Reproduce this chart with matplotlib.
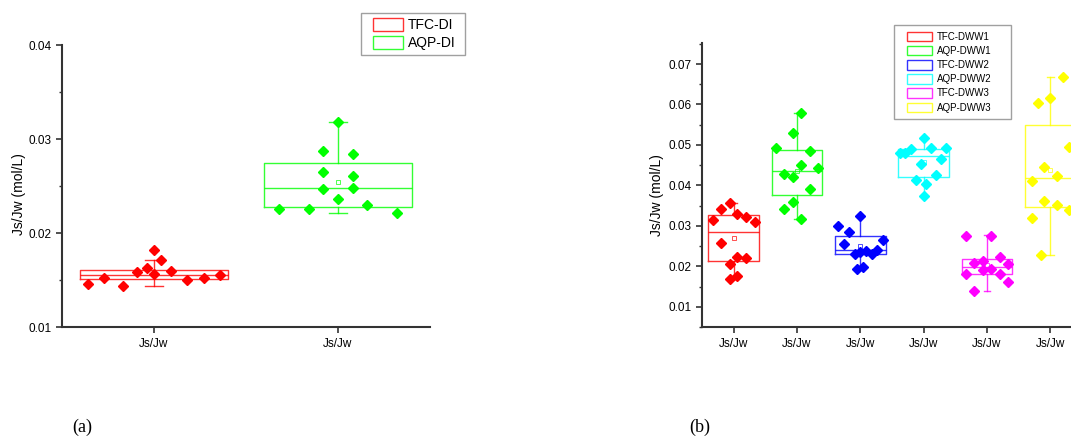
import numpy as np
import matplotlib.pyplot as plt
from matplotlib.patches import Patch, Rectangle
from matplotlib.legend_handler import HandlerPatch
from matplotlib.ticker import MultipleLocator, FormatStrFormatter

plt.rcParams['font.family'] = ['Liberation Sans', 'DejaVu Sans']

# ---- panel (a) data ----
names_a = ['TFC-DI', 'AQP-DI']
colors_a = ['#ff0000', '#00ff00']
tfc_di = [0.01454, 0.01521, 0.01436, 0.01582, 0.01628, 0.01819,
          0.01560, 0.01713, 0.01596, 0.01500, 0.01518, 0.01553]
aqp_di = [0.02255, 0.02252, 0.02872, 0.02649, 0.02471, 0.03184,
          0.02358, 0.02844, 0.02610, 0.02482, 0.02294, 0.02216]
q1_a = [0.01507, 0.02277]
med_a = [0.01556, 0.02476]
q3_a = [0.01610, 0.02745]
lo_a = [0.01436, 0.02216]
hi_a = [0.01713, 0.03184]

# ---- panel (b) data ----
names_b = ['TFC-DWW1', 'AQP-DWW1', 'TFC-DWW2', 'AQP-DWW2', 'TFC-DWW3', 'AQP-DWW3']
colors_b = ['#ff0000', '#00ff00', '#0000ff', '#00ffff', '#ff00ff', '#ffff00']
tfc_dww1 = [0.03156, 0.03412, 0.03576, 0.03296, 0.03215, 0.03099,
            0.02588, 0.02062, 0.02242, 0.02217, 0.01675, 0.01757]
aqp_dww1 = [0.04918, 0.05289, 0.05798, 0.04844, 0.04506, 0.04424,
            0.04284, 0.04218, 0.03914, 0.03585, 0.03420, 0.03180]
tfc_dww2 = [0.02992, 0.02844, 0.03247, 0.02556, 0.02309, 0.02366,
            0.02390, 0.02316, 0.02407, 0.02646, 0.01931, 0.01971]
aqp_dww2 = [0.04810, 0.04810, 0.04900, 0.05165, 0.04933, 0.04933,
            0.04647, 0.04531, 0.04259, 0.04136, 0.04030, 0.03748]
tfc_dww3 = [0.02745, 0.02760, 0.02086, 0.02136, 0.02235, 0.02054,
            0.01906, 0.01931, 0.01815, 0.01807, 0.01617, 0.01378]
aqp_dww3 = [0.06030, 0.06168, 0.06671, 0.04457, 0.04227, 0.04958,
            0.04119, 0.03617, 0.03527, 0.03388, 0.03190, 0.02284]
q1_b = [0.02143, 0.03758, 0.02309, 0.04210, 0.01815, 0.03461]
med_b = [0.02844, 0.04351, 0.02400, 0.04728, 0.01971, 0.04178]
q3_b = [0.03264, 0.04884, 0.02745, 0.04909, 0.02193, 0.05486]
lo_b = [0.01675, 0.03180, 0.01931, 0.03748, 0.01395, 0.02284]
hi_b = [0.03576, 0.05798, 0.03247, 0.05165, 0.02780, 0.06671]

# horizontal spread of the points (layout only)
jit_a = [[-0.36, -0.27, -0.17, -0.09, -0.04, 0.0, 0.0, 0.04, 0.09, 0.18, 0.27, 0.36],
         [-0.32, -0.16, -0.08, -0.08, -0.08, 0.0, 0.0, 0.08, 0.08, 0.08, 0.16, 0.32]]
jit_b = [[-0.33, -0.2, -0.06, 0.06, 0.2, 0.33, -0.2, -0.06, 0.06, 0.2, -0.06, 0.06],
         [-0.33, -0.07, 0.06, 0.2, 0.06, 0.33, -0.2, -0.07, 0.2, -0.07, -0.2, 0.06],
         [-0.35, -0.18, 0.0, -0.26, -0.09, 0.0, 0.09, 0.18, 0.26, 0.35, -0.05, 0.04],
         [-0.38, -0.29, -0.2, 0.0, 0.12, 0.36, 0.27, -0.04, 0.2, -0.12, 0.04, 0.0],
         [-0.33, 0.06, -0.2, -0.07, 0.2, 0.33, -0.07, 0.06, -0.33, 0.2, 0.33, -0.2],
         [-0.2, 0.0, 0.2, -0.1, 0.1, 0.29, -0.29, -0.1, 0.1, 0.29, -0.29, -0.15]]

fig = plt.figure(figsize=(10.71, 4.37), dpi=100)
ax_a = fig.add_axes([62/1071, 110/437, 368/1071, 282/437])
ax_b = fig.add_axes([702/1071, 110/437, 380/1071, 284/437])


def draw(ax, groups, q1, med, q3, lo, hi, colors, jit):
    for i, vals in enumerate(groups):
        pos = i + 1
        c = colors[i]
        st = [dict(q1=q1[i], med=med[i], q3=q3[i], whislo=lo[i], whishi=hi[i],
                   mean=np.mean(vals), fliers=[])]
        lp = dict(color=c, linewidth=1.0, alpha=0.8)
        ax.bxp(st, positions=[pos], widths=0.8, capwidths=0.1, showmeans=True,
               boxprops=lp, whiskerprops=lp, capprops=lp, medianprops=lp,
               meanprops=dict(marker='s', markersize=3, markerfacecolor='none',
                              markeredgecolor=c, markeredgewidth=0.6, alpha=0.8),
               manage_ticks=False)
        ax.plot(pos + np.array(jit[i]), vals, 'D', color=c, markersize=5.3, zorder=3,
                linestyle='none')
    ax.set_xticks(np.arange(1, len(groups) + 1), ['Js/Jw'] * len(groups))
    for s in ['top', 'right']:
        ax.spines[s].set_visible(False)
    for s in ['left', 'bottom']:
        ax.spines[s].set_linewidth(1.5)
        ax.spines[s].set_color('#333333')
    ax.yaxis.set_major_locator(MultipleLocator(0.01))
    ax.yaxis.set_minor_locator(MultipleLocator(0.005))
    ax.yaxis.set_major_formatter(FormatStrFormatter('%.2f'))
    ax.tick_params(which='major', direction='out', length=4, width=1.2,
                   color='#333333', labelsize=8.5)
    ax.tick_params(which='minor', direction='out', length=2.5, width=1.0,
                   color='#333333')
    ax.tick_params(axis='x', pad=4)
    ax.set_xlim(0.5, len(groups) + 0.5)
    ax.set_ylabel('Js/Jw (mol/L)', fontsize=10)


def shifted_box(off):
    # legend key: an empty box pushed right by `off` points
    def make(legend, orig_handle, xdescent, ydescent, width, height, fontsize):
        return Rectangle((-xdescent + off, -ydescent), width - off, height)
    return HandlerPatch(patch_func=make)


draw(ax_a, [tfc_di, aqp_di], q1_a, med_a, q3_a, lo_a, hi_a, colors_a, jit_a)
ax_a.set_ylim(0.01, 0.04)
ax_a.yaxis.set_label_coords(-0.097, 0.47)

draw(ax_b, [tfc_dww1, aqp_dww1, tfc_dww2, aqp_dww2, tfc_dww3, aqp_dww3],
     q1_b, med_b, q3_b, lo_b, hi_b, colors_b, jit_b)
ax_b.set_ylim(0.005, 0.0752)
ax_b.yaxis.set_label_coords(-0.10, 0.465)

h_a = [Patch(facecolor='none', edgecolor=c, linewidth=1.0, alpha=0.8) for c in colors_a]
leg_a = ax_a.legend(h_a, names_a, loc='upper left', mode='expand',
                    bbox_to_anchor=(361/1071, 1 - 53/437, 104/1071, 40/437),
                    bbox_transform=fig.transFigure,
                    handler_map={Patch: shifted_box(5.0)},
                    fontsize=10, frameon=True, fancybox=False, edgecolor='#888888',
                    handlelength=2.66, handleheight=1.08, labelspacing=0.3,
                    borderpad=0.33, handletextpad=0.36, borderaxespad=0)
leg_a.get_frame().set_linewidth(1.0)

h_b = [Patch(facecolor='none', edgecolor=c, linewidth=1.0, alpha=0.8) for c in colors_b]
leg_b = ax_b.legend(h_b, names_b, loc='upper left', mode='expand',
                    bbox_to_anchor=(894/1071, 1 - 118/437, 117/1071, 93/437),
                    bbox_transform=fig.transFigure,
                    handler_map={Patch: shifted_box(4.75)},
                    fontsize=7, frameon=True, fancybox=False, edgecolor='#888888',
                    handlelength=3.25, handleheight=1.13, labelspacing=0.42,
                    borderpad=0.7, handletextpad=0.44, borderaxespad=0)
leg_b.get_frame().set_linewidth(1.0)

fig.text(82/1071, 1 - 427/437, '(a)', ha='center', va='center',
         family='Liberation Serif', fontsize=13)
fig.text(700/1071, 1 - 427/437, '(b)', ha='center', va='center',
         family='Liberation Serif', fontsize=13)

fig.savefig('out.png', dpi=100)
